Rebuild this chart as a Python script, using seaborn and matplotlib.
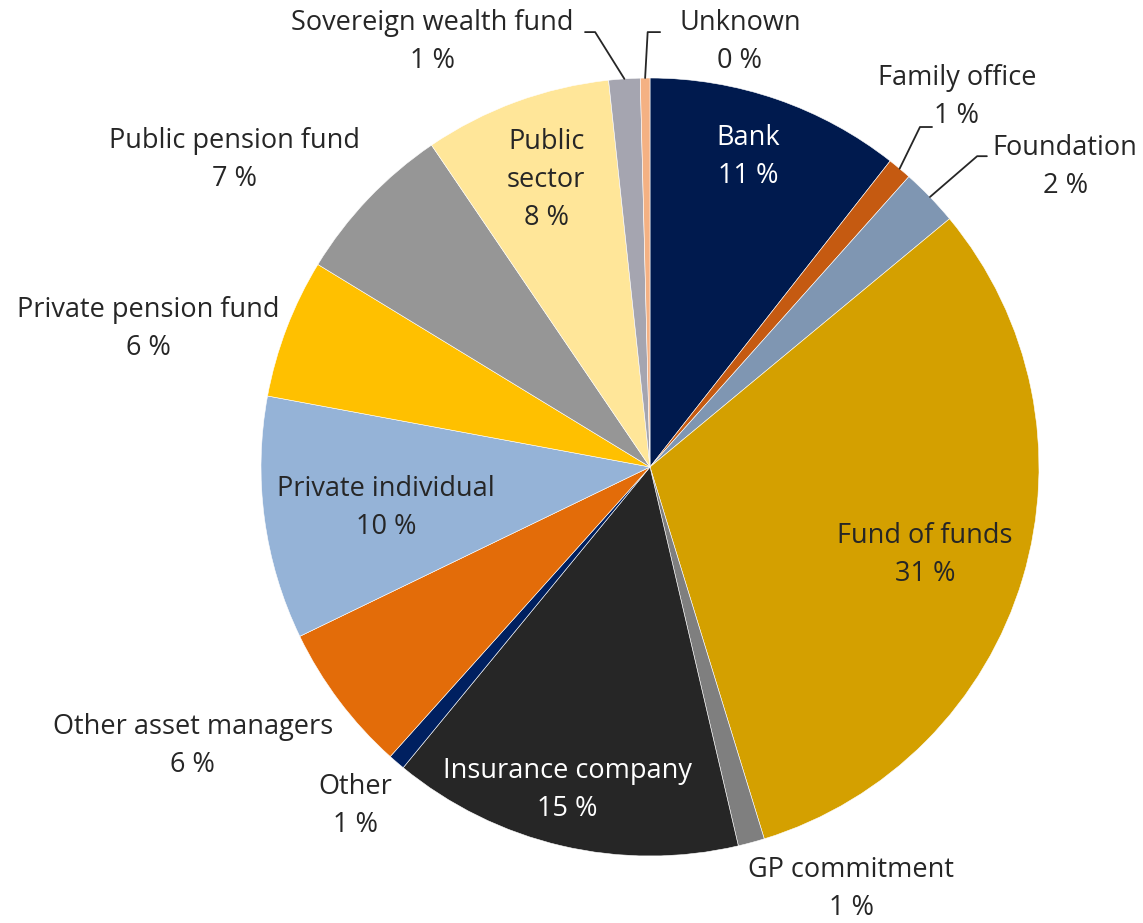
import numpy as np
import seaborn as sns
import matplotlib.pyplot as plt

# investor types, clockwise from 12 o'clock
investor = ['Bank', 'Family office', 'Foundation', 'Fund of funds', 'GP commitment',
            'Insurance company', 'Other', 'Other asset managers', 'Private individual',
            'Private pension fund', 'Public pension fund', 'Public sector',
            'Sovereign wealth fund', 'Unknown']
share = [10.6, 1.0, 2.4, 31.3, 1.1, 14.6, 0.7, 6.2, 10.1, 5.8, 6.8, 7.8, 1.3, 0.4]
label_text = ['Bank', 'Family office', 'Foundation', 'Fund of funds', 'GP commitment',
              'Insurance company', 'Other', 'Other asset managers', 'Private individual',
              'Private pension fund', 'Public pension fund', 'Public\nsector',
              'Sovereign wealth fund', 'Unknown']
colors = ['#001A4E', '#C55A11', '#7F96B2', '#D4A000', '#7F7F7F', '#262626', '#002060',
          '#E36C09', '#95B3D7', '#FFC000', '#969696', '#FFE699', '#A5A5B0', '#F4B183']
white_text = ['Bank', 'Insurance company']

# label centres (pie radius = 1)
label_pos = {
    'Bank': (0.252, 0.797), 'Family office': (0.789, 0.951), 'Foundation': (1.067, 0.771),
    'Fund of funds': (0.707, -0.226), 'GP commitment': (0.517, -1.085),
    'Insurance company': (-0.213, -0.830), 'Other': (-0.758, -0.871),
    'Other asset managers': (-1.175, -0.717), 'Private individual': (-0.679, -0.105),
    'Private pension fund': (-1.290, 0.355), 'Public pension fund': (-1.067, 0.789),
    'Public sector': (-0.267, 0.738), 'Sovereign wealth fund': (-0.560, 1.093),
    'Unknown': (0.231, 1.093),
}
# leader lines: elbow then end point near label
leaders = {
    'Family office': [(0.694, 0.874), (0.725, 0.874)],
    'Foundation': [(0.841, 0.799), (0.866, 0.799)],
    'Sovereign wealth fund': [(-0.141, 1.118), (-0.167, 1.118)],
    'Unknown': [(-0.006, 1.118), (0.026, 1.118)],
}

sns.set_theme(style='white')
plt.rcParams['font.family'] = ['Open Sans', 'DejaVu Sans']

fig = plt.figure(figsize=(11.43, 9.23), dpi=100)
ax = fig.add_axes([0, 0, 1, 1])
wedges, _ = ax.pie(share, colors=colors, startangle=90, counterclock=False, radius=1,
                   wedgeprops=dict(linewidth=0.4, edgecolor='white'))

for w, name, lab, val in zip(wedges, investor, label_text, share):
    x, y = label_pos[name]
    txt_color = 'white' if name in white_text else '#262626'
    ax.text(x, y, f'{lab}\n{round(val):d} %', ha='center', va='center', fontsize=19.5,
            color=txt_color, linespacing=1.47)
    if name in leaders:
        mid = np.deg2rad((w.theta1 + w.theta2) / 2)
        pts = [(np.cos(mid), np.sin(mid))] + leaders[name]
        xs, ys = zip(*pts)
        ax.plot(xs, ys, color='#262626', lw=1.3)

ax.set_xlim(-650 / 389, (1143 - 650) / 389)
ax.set_ylim(-(923 - 467) / 389, 467 / 389)
ax.set_aspect('equal')
ax.axis('off')
fig.savefig('out.png', dpi=100)
